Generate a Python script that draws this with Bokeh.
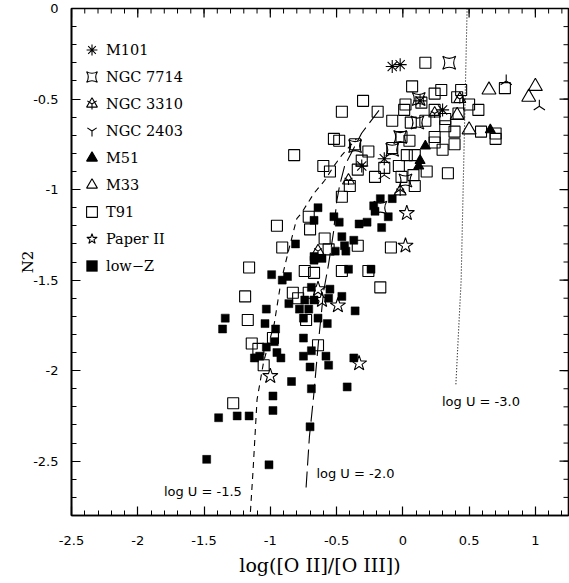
import numpy as np
from bokeh.plotting import figure
from bokeh.models import (Range1d, LinearAxis, FixedTicker, Legend, LegendItem, Label)
from bokeh.embed import file_html
from bokeh.resources import INLINE

# ---------------- data ----------------
t91_x = [-0.30, -0.46, -0.19, -0.08, 0.02, 0.01, 0.07, -0.52, -0.48, -0.36, -0.82, -0.60,
         -0.55, -0.26, -0.31, -0.34, -0.21, -0.40, -0.46, -0.14, -0.03, -0.08, 0.03, 0.09,
         -0.01, 0.05, -0.01, 0.08, 0.09, -0.71, -0.70, 0.17, 0.29, 0.44, 0.24, 0.41, 0.50,
         0.57, 0.14, 0.24, 0.17, 0.32, 0.42, 0.06, 0.32, 0.39, 0.24, 0.24, 0.30, 0.39, 0.18,
         0.34, 0.59, 0.70, 0.70, 0.77, -0.95, -0.91, -0.59, -0.56, -0.34, -0.09, -1.16, -0.74,
         -0.67, -0.46, -0.26, -0.17, -1.19, -0.83, -0.79, -0.71, -1.17, -0.73, -0.98, -1.14,
         -1.09, -1.05, -0.64, -1.28]
t91_y = [-0.51, -0.57, -0.57, -0.62, -0.53, -0.56, -0.43, -0.72, -0.73, -0.75, -0.81, -0.87,
         -0.90, -0.79, -0.84, -0.89, -0.93, -0.98, -1.04, -0.88, -0.87, -0.77, -0.81, -0.81,
         -0.71, -0.73, -0.93, -0.92, -0.98, -1.15, -1.22, -0.30, -0.45, -0.45, -0.47, -0.49, -0.53,
         -0.56, -0.52, -0.56, -0.62, -0.61, -0.58, -0.63, -0.65, -0.68, -0.71, -0.74, -0.78, -0.75, -0.90,
         -0.91, -0.68, -0.69, -0.72, -0.44, -1.20, -1.32, -1.27, -1.33, -1.31, -1.32, -1.43, -1.45,
         -1.46, -1.45, -1.45, -1.54, -1.59, -1.57, -1.60, -1.57, -1.72, -1.72, -1.82, -1.85,
         -1.88, -1.97, -1.86, -2.18]

lowz_x = [-0.64, -0.67, -0.52, -0.48, -0.33, -0.27, -0.22, -0.21, -0.17, -0.08, -0.16, -0.11,
          -0.81, -0.46, -0.44, -0.37, -0.43, -0.51, -0.67, -0.67, -0.61, -0.99, -0.87, -0.91,
          -0.41, -0.24, -0.69, -0.55, -0.46, -0.86, -0.74, -0.67, -0.56, -0.78, -0.71, -1.03,
          -1.34, -1.36, -1.04, -0.75, -0.64, -0.57, -0.36, -0.96, -0.97, -1.03, -0.95, -0.92,
          -1.12, -1.08, -0.75, -0.75, -0.69, -0.58, -0.70, -0.56, -0.37, -0.84, -0.98, -0.98,
          -0.69, -0.42, -1.39, -1.25, -1.16, -1.48, -1.01, -0.70]
lowz_y = [-1.10, -1.17, -1.15, -1.18, -1.19, -1.18, -1.09, -1.12, -1.05, -1.05, -1.21, -1.15,
          -1.30, -1.26, -1.31, -1.28, -1.34, -1.34, -1.37, -1.39, -1.38, -1.47, -1.48, -1.50,
          -1.44, -1.44, -1.54, -1.55, -1.59, -1.63, -1.61, -1.61, -1.60, -1.66, -1.66, -1.66,
          -1.71, -1.77, -1.74, -1.71, -1.71, -1.74, -1.67, -1.77, -1.84, -1.87, -1.90, -1.93,
          -1.93, -1.92, -1.82, -1.92, -1.89, -1.92, -1.98, -1.97, -1.93, -2.06, -2.14, -2.22,
          -2.10, -2.09, -2.26, -2.25, -2.25, -2.49, -2.52, -2.31]

paper2_x = [-0.64, -0.61, -0.49, -0.33, -1.00, 0.03, 0.02]
paper2_y = [-1.55, -1.61, -1.64, -1.96, -2.03, -1.13, -1.31]

m101_x = [-0.08, -0.02, 0.13, 0.30, -0.14, -0.31]
m101_y = [-0.32, -0.31, -0.51, -0.56, -0.83, -0.87]

ngc7714_x = [0.35, 0.12, 0.11, -0.02, -0.08, 0.02, -0.17, -0.36]
ngc7714_y = [-0.30, -0.50, -0.63, -0.71, -0.78, -0.95, -1.10, -0.76]

ngc3310_x = [0.43, 0.24, -0.41, -0.02, -0.64]
ngc3310_y = [-0.50, -0.58, -0.95, -1.01, -1.34]

ngc2403_x = [0.78, 1.03, -0.02, -0.14]
ngc2403_y = [-0.40, -0.54, -1.00, -0.92]

m51_x = [0.17, 0.13, 0.12, 0.66]
m51_y = [-0.76, -0.84, -0.87, -0.67]

m33_x = [0.65, 1.00, 0.95, 0.50, 0.41]
m33_y = [-0.45, -0.43, -0.49, -0.67, -0.59]

# photoionisation model curves
logu15_x = [-1.15, -1.13, -1.10, -1.05, -0.97, -0.92, -0.86, -0.80, -0.765, -0.67, -0.59, -0.52, -0.46, -0.35]
logu15_y = [-2.78, -2.55, -2.16, -1.95, -1.74, -1.51, -1.33, -1.16, -1.13, -1.02, -0.95, -0.87, -0.81, -0.72]
logu20_x = [-0.73, -0.705, -0.674, -0.636, -0.598, -0.561, -0.523, -0.50, -0.477, -0.439, -0.311, -0.18]
logu20_y = [-2.645, -2.366, -2.148, -1.836, -1.563, -1.415, -1.235, -1.071, -0.978, -0.869, -0.689, -0.563]
logu30_x = [0.485, 0.47, 0.455, 0.44, 0.40]
logu30_y = [0.0, -0.5, -1.0, -1.5, -2.08]

x_min, x_max = -2.5, 1.25
y_min, y_max = -2.8, 0.0
x_ticks = [-2.5, -2.0, -1.5, -1.0, -0.5, 0.0, 0.5, 1.0]
x_tick_labels = ["-2.5", "-2", "-1.5", "-1", "-0.5", "0", "0.5", "1"]
y_ticks = [-2.5, -2.0, -1.5, -1.0, -0.5, 0.0]
y_tick_labels = ["-2.5", "-2", "-1.5", "-1", "-0.5", "0"]
x_minor = [round(-2.5 + 0.1 * i, 2) for i in range(38)]
y_minor = [round(-2.8 + 0.1 * i, 2) for i in range(29)]

# ---------------- figure ----------------
p = figure(frame_width=497, frame_height=507,
           x_range=Range1d(x_min, x_max), y_range=Range1d(y_min, y_max),
           output_backend="svg", toolbar_location=None,
           min_border_left=71, min_border_right=1, min_border_top=8, min_border_bottom=66,
           x_axis_type=None, y_axis_type=None)
p.grid.visible = False
p.outline_line_color = "black"
p.outline_line_width = 1.6
p.background_fill_color = "white"
p.border_fill_color = "white"

tick_font = "DejaVu Sans"


def make_axis(ticks, minor, labels, standoff):
    ax = LinearAxis(ticker=FixedTicker(ticks=ticks, minor_ticks=minor))
    ax.major_label_overrides = {t: l for t, l in zip(ticks, labels)}
    ax.major_tick_in = 9
    ax.major_tick_out = 0
    ax.minor_tick_in = 5
    ax.minor_tick_out = 0
    ax.axis_line_width = 1.6
    ax.major_tick_line_width = 1.2
    ax.minor_tick_line_width = 1.0
    ax.axis_line_color = "black"
    ax.major_tick_line_color = "black"
    ax.minor_tick_line_color = "black"
    ax.major_label_text_font = tick_font
    ax.major_label_text_color = "black"
    ax.major_label_text_font_size = "13px"
    ax.major_label_standoff = standoff
    ax.axis_label_text_font = "DejaVu Serif"
    ax.axis_label_text_font_style = "normal"
    ax.axis_label_text_color = "black"
    return ax


xax = make_axis(x_ticks, x_minor, x_tick_labels, 20)
xax.axis_label = "log([O II]/[O III])"
xax.axis_label_text_font_size = "19px"
xax.axis_label_standoff = 6
p.add_layout(xax, "below")

yax = make_axis(y_ticks, y_minor, y_tick_labels, 13)
yax.axis_label = "N2"
yax.axis_label_text_font_size = "15px"
yax.axis_label_standoff = -7
p.add_layout(yax, "left")

# inward ticks on the top and right edges (half of each dash is clipped by the frame)
p.scatter(x_ticks, [y_max] * len(x_ticks), marker="dash", size=18, angle=np.pi / 2,
          line_color="black", line_width=1.2)
p.scatter(x_minor, [y_max] * len(x_minor), marker="dash", size=10, angle=np.pi / 2,
          line_color="black", line_width=1.0)
p.scatter([x_max] * len(y_ticks), y_ticks, marker="dash", size=18,
          line_color="black", line_width=1.2)
p.scatter([x_max] * len(y_minor), y_minor, marker="dash", size=10,
          line_color="black", line_width=1.0)

# model curves
p.line(logu15_x, logu15_y, line_color="black", line_width=1.1, line_dash="6 5")
p.line(logu20_x, logu20_y, line_color="black", line_width=1.1, line_dash="16 6")
p.line(logu30_x, logu30_y, line_color="black", line_width=1.1, line_dash="1 2")

lw = 1.1
r_t91 = p.scatter(t91_x, t91_y, marker="square", size=11, fill_color=None,
                  line_color="black", line_width=lw)
r_lowz = p.scatter(lowz_x, lowz_y, marker="square", size=8, fill_color="black",
                   line_color="black", line_width=0.5)
r_p2 = p.scatter(paper2_x, paper2_y, marker="star", size=16, fill_color=None,
                 line_color="black", line_width=lw)
r_m101 = p.scatter(m101_x, m101_y, marker="asterisk", size=13, line_color="black", line_width=lw)
r_7714 = p.scatter(ngc7714_x, ngc7714_y, marker="square_pin", size=13, fill_color=None,
                   line_color="black", line_width=lw)
r_3310a = p.scatter(ngc3310_x, ngc3310_y, marker="triangle", size=12, fill_color=None,
                    line_color="black", line_width=lw)
r_3310b = p.scatter(ngc3310_x, ngc3310_y, marker="y", size=9, line_color="black", line_width=lw)
r_2403 = p.scatter(ngc2403_x, ngc2403_y, marker="y", size=13, angle=np.pi,
                   line_color="black", line_width=lw)
r_m51 = p.scatter(m51_x, m51_y, marker="triangle", size=10, fill_color="black",
                  line_color="black", line_width=lw)
r_m33 = p.scatter(m33_x, m33_y, marker="triangle", size=14, fill_color=None,
                  line_color="black", line_width=lw)

legend = Legend(items=[
    LegendItem(label="M101", renderers=[r_m101]),
    LegendItem(label="NGC 7714", renderers=[r_7714]),
    LegendItem(label="NGC 3310", renderers=[r_3310a, r_3310b]),
    LegendItem(label="NGC 2403", renderers=[r_2403]),
    LegendItem(label="M51", renderers=[r_m51]),
    LegendItem(label="M33", renderers=[r_m33]),
    LegendItem(label="T91", renderers=[r_t91]),
    LegendItem(label="Paper II", renderers=[r_p2]),
    LegendItem(label="low\u2212Z", renderers=[r_lowz]),
], location=(7, 236))
legend.glyph_width = 27
legend.glyph_height = 27
legend.label_height = 27
legend.spacing = 0
legend.padding = 0
legend.margin = 0
legend.label_standoff = 1
legend.border_line_color = None
legend.background_fill_alpha = 0
legend.label_text_font = "DejaVu Serif"
legend.label_text_font_size = "14.5px"
legend.label_text_color = "black"
p.add_layout(legend)

# curve annotations
for tx, ty, txt in [(-1.803, -2.667, "log U = -1.5"), (-0.652, -2.568, "log U = -2.0"),
                    (0.295, -2.169, "log U = -3.0")]:
    p.add_layout(Label(x=tx, y=ty, text=txt, text_font="DejaVu Sans",
                       text_font_size="13px", text_baseline="middle", text_align="left",
                       text_color="black"))

open("out.html", "w").write(file_html(p, INLINE))
